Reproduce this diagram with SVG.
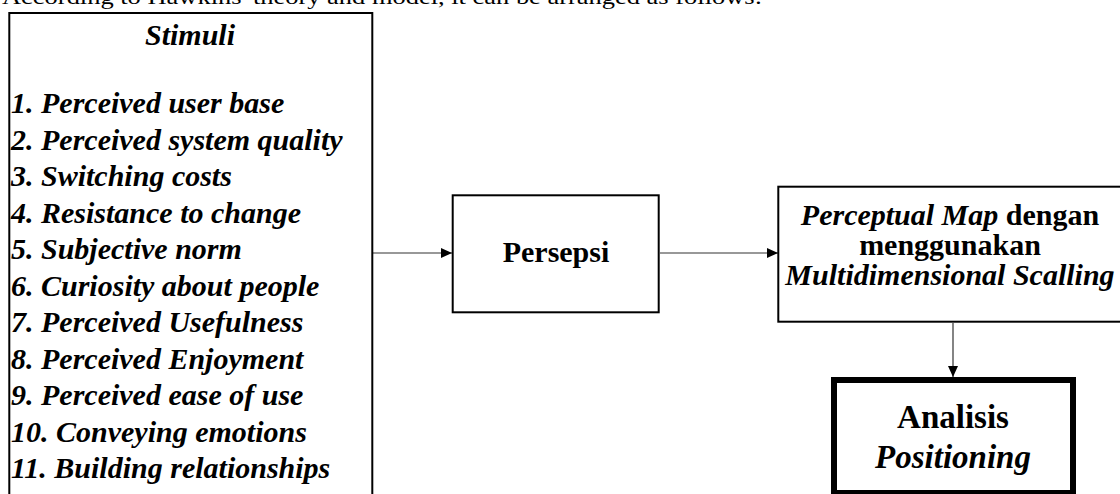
<svg xmlns="http://www.w3.org/2000/svg" width="1120" height="494" viewBox="0 0 1120 494">
<style>
.t{font-family:"Liberation Serif","Times New Roman",serif;fill:#000}
.b{font-weight:bold}
.i{font-style:italic}
.box{fill:#fff;stroke:#000;stroke-width:2}
.conn{stroke:#333;stroke-width:1.2;fill:none}
</style>
<defs>
<marker id="ah" markerWidth="11" markerHeight="10" refX="11" refY="5" orient="auto" markerUnits="userSpaceOnUse">
<path d="M0,0 L11,5 L0,10 Z" fill="#000"/>
</marker>
</defs>
<rect width="1120" height="494" fill="#fff"/>
<text class="t" x="2" y="3.5" font-size="22" textLength="760" lengthAdjust="spacingAndGlyphs">According to Hawkins' theory and model, it can be arranged as follows:</text>
<g id="connectors">
<line class="conn" x1="373" y1="253" x2="452" y2="253" marker-end="url(#ah)"/>
<line class="conn" x1="660" y1="253" x2="778" y2="253" marker-end="url(#ah)"/>
<line class="conn" x1="953" y1="323" x2="953" y2="377" marker-end="url(#ah)"/>
</g>
<g id="stimuli">
<rect class="box" x="9.3" y="13" width="363" height="520"/>
<text class="t b i" x="190" y="45" font-size="30" text-anchor="middle">Stimuli</text>
<g class="t b i" font-size="30">
<text x="11" y="113">1. Perceived user base</text>
<text x="11" y="149.5">2. Perceived system quality</text>
<text x="11" y="186">3. Switching costs</text>
<text x="11" y="222.5">4. Resistance to change</text>
<text x="11" y="259">5. Subjective norm</text>
<text x="11" y="295.5">6. Curiosity about people</text>
<text x="11" y="332">7. Perceived Usefulness</text>
<text x="11" y="368.5">8. Perceived Enjoyment</text>
<text x="11" y="405">9. Perceived ease of use</text>
<text x="11" y="441.5">10. Conveying emotions</text>
<text x="11" y="478">11. Building relationships</text>
</g>
</g>
<g id="persepsi">
<rect class="box" x="452.7" y="195.3" width="206" height="117"/>
<text class="t b" x="556" y="262" font-size="30" text-anchor="middle">Persepsi</text>
</g>
<g id="perceptual-map">
<rect class="box" x="778.3" y="186.7" width="345" height="135"/>
<text class="t b" x="950" y="225" font-size="30" text-anchor="middle"><tspan class="i">Perceptual Map</tspan> dengan</text>
<text class="t b" x="950" y="255" font-size="30" text-anchor="middle">menggunakan</text>
<text class="t b i" x="950" y="285" font-size="30" text-anchor="middle">Multidimensional Scalling</text>
</g>
<g id="analisis">
<rect x="834" y="380" width="239" height="113" fill="#fff" stroke="#000" stroke-width="6"/>
<text class="t b" x="953" y="428" font-size="33" text-anchor="middle">Analisis</text>
<text class="t b i" x="953" y="468" font-size="33" text-anchor="middle">Positioning</text>
</g>
</svg>
